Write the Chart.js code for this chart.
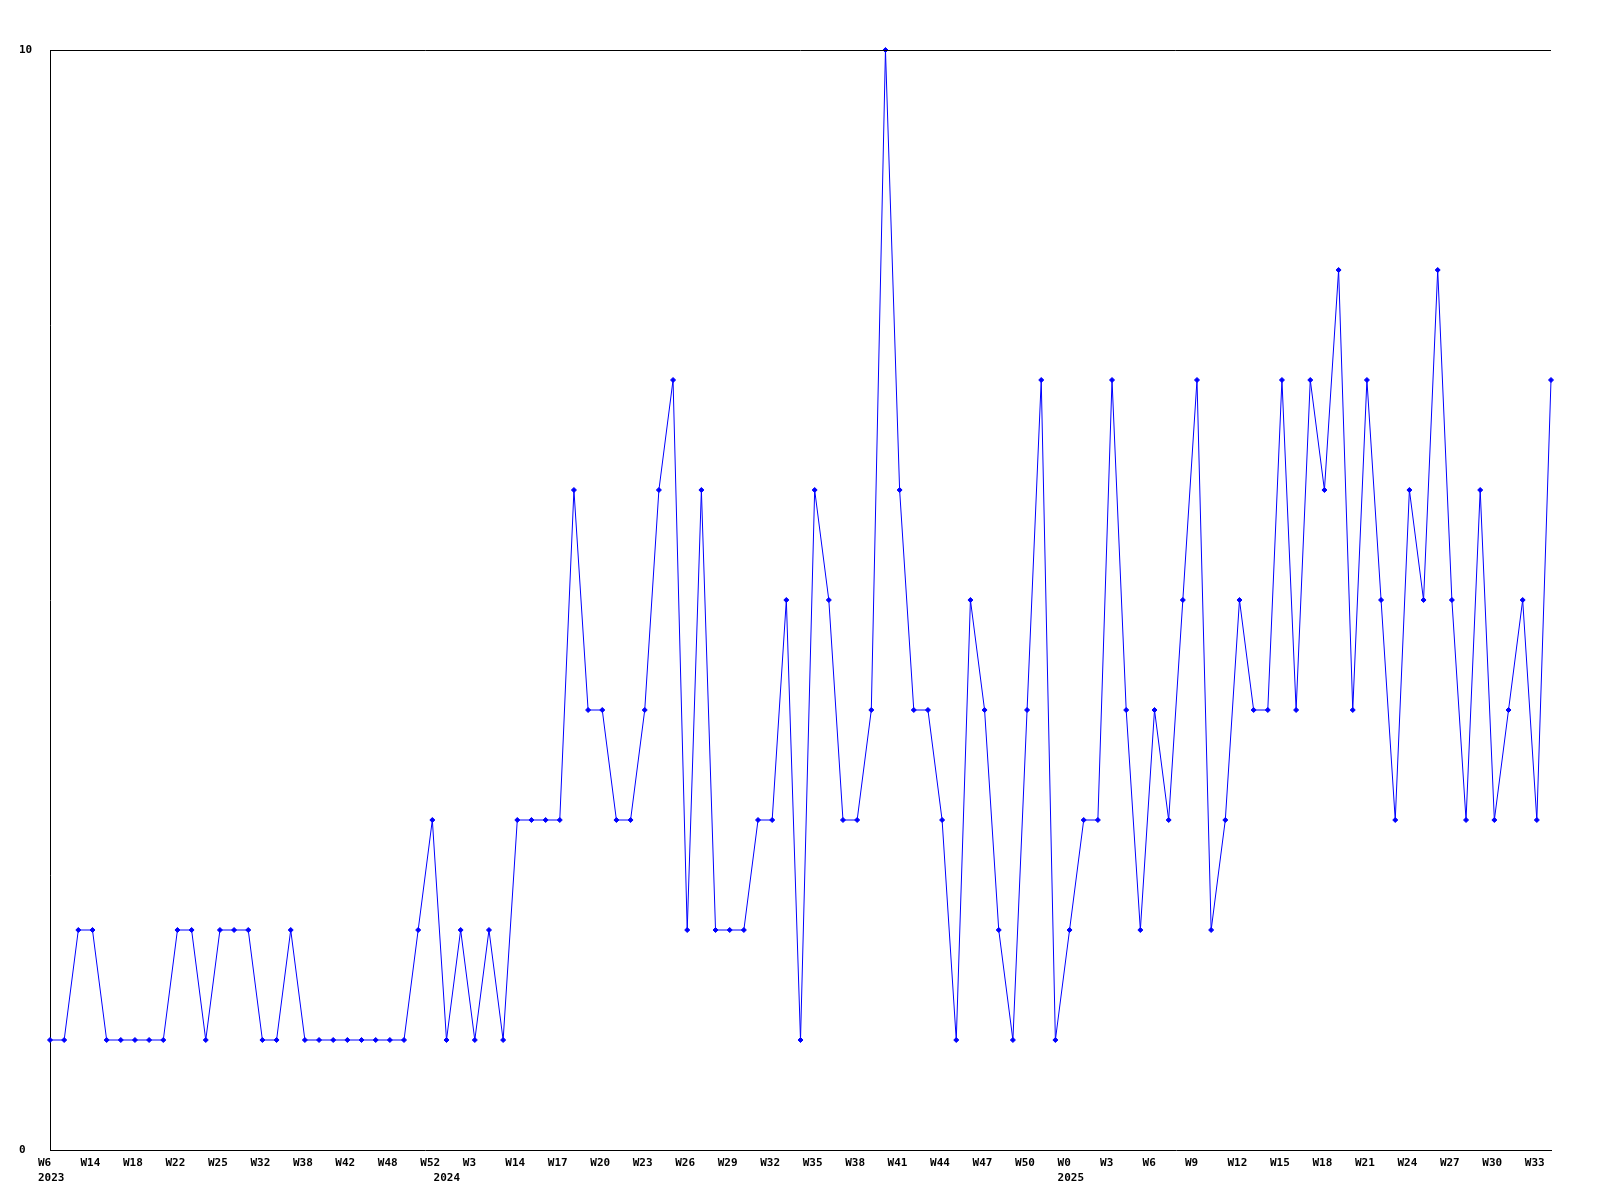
<!DOCTYPE html>
<html>
<head>
<meta charset="utf-8">
<title>Weekly count</title>
<script src="https://cdn.jsdelivr.net/npm/chart.js@4/dist/chart.umd.min.js"></script>
<style>
  body { margin: 0; background: #fff; }
  #wrap { width: 1600px; height: 1200px; }
</style>
</head>
<body>
<div id="wrap"><canvas id="weekly" width="1600" height="1200"></canvas></div>
<script>
// one value per week
var counts = [
    1, 1, 2, 2, 1, 1, 1, 1, 1, 2,
    2, 1, 2, 2, 2, 1, 1, 2, 1, 1,
    1, 1, 1, 1, 1, 1, 2, 3, 1, 2,
    1, 2, 1, 3, 3, 3, 3, 6, 4, 4,
    3, 3, 4, 6, 7, 2, 6, 2, 2, 2,
    3, 3, 5, 1, 6, 5, 3, 3, 4, 10,
    6, 4, 4, 3, 1, 5, 4, 2, 1, 4,
    7, 1, 2, 3, 3, 7, 4, 2, 4, 3,
    5, 7, 2, 3, 5, 4, 4, 7, 4, 7,
    6, 8, 4, 7, 5, 3, 6, 5, 8, 5,
    3, 6, 3, 4, 5, 3, 7
];

// a label is printed on every third week
var tickLabels = [
    'W6', 'W14', 'W18', 'W22', 'W25', 'W32', 'W38', 'W42', 'W48', 'W52',
    'W3', 'W14', 'W17', 'W20', 'W23', 'W26', 'W29', 'W32', 'W35', 'W38',
    'W41', 'W44', 'W47', 'W50', 'W0', 'W3', 'W6', 'W9', 'W12', 'W15',
    'W18', 'W21', 'W24', 'W27', 'W30', 'W33'
];
// second line under some printed weeks (2024 sits a bit right of W52)
var yearLabels = { 0: '2023', 9: '  2024', 24: '2025' };
var labelEvery = 3;

var yTicks = [0, 10];

var weeks = counts.map(function (v, i) { return 'w' + i; });

var topLine = {
    id: 'topLine',
    afterDraw: function (chart) {
        var a = chart.chartArea;
        var c = chart.ctx;
        c.save();
        c.strokeStyle = '#000';
        c.lineWidth = 1;
        c.beginPath();
        c.moveTo(a.left, Math.round(a.top) + 0.5);
        c.lineTo(a.right, Math.round(a.top) + 0.5);
        c.stroke();
        c.restore();
    }
};

var ctx = document.getElementById('weekly').getContext('2d');
var chart = new Chart(ctx, {
    type: 'line',
    data: {
        labels: weeks,
        datasets: [{
            data: counts,
            borderColor: '#0000ff',
            backgroundColor: '#0000ff',
            borderWidth: 1,
            tension: 0,
            pointStyle: 'rectRot',
            pointRadius: 2.5,
            pointBorderWidth: 1,
            pointHoverRadius: 2.5,
            clip: 4
        }]
    },
    options: {
        responsive: false,
        animation: false,
        events: [],
        layout: { padding: { left: 19, right: 49, top: 50, bottom: 0 } },
        plugins: {
            legend: { display: false },
            tooltip: { enabled: false }
        },
        scales: {
            x: {
                type: 'category',
                offset: false,
                grid: { display: false, drawTicks: false, tickLength: 0 },
                border: { display: true, color: '#000', width: 1 },
                afterFit: function (scale) { scale.height = 50; },
                ticks: {
                    autoSkip: false,
                    maxRotation: 0,
                    minRotation: 0,
                    align: 'start',
                    labelOffset: -12,
                    padding: 5,
                    color: '#000',
                    font: { family: 'DejaVu Sans Mono', size: 11, weight: 'bold', lineHeight: 1.4 },
                    callback: function (val, i) {
                        if (i % labelEvery !== 0) return null;
                        var k = i / labelEvery;
                        if (yearLabels[k]) return [tickLabels[k], yearLabels[k]];
                        return tickLabels[k];
                    }
                }
            },
            y: {
                min: yTicks[0],
                max: yTicks[1],
                grid: { display: false, drawTicks: false, tickLength: 0 },
                border: { display: true, color: '#000', width: 1 },
                afterFit: function (scale) { scale.width = 31; },
                afterBuildTicks: function (scale) {
                    scale.ticks = yTicks.map(function (v) { return { value: v }; });
                },
                ticks: {
                    crossAlign: 'far',
                    padding: 0,
                    color: '#000',
                    font: { family: 'DejaVu Sans Mono', size: 11, weight: 'bold' }
                }
            }
        }
    },
    plugins: [topLine]
});
</script>
</body>
</html>
